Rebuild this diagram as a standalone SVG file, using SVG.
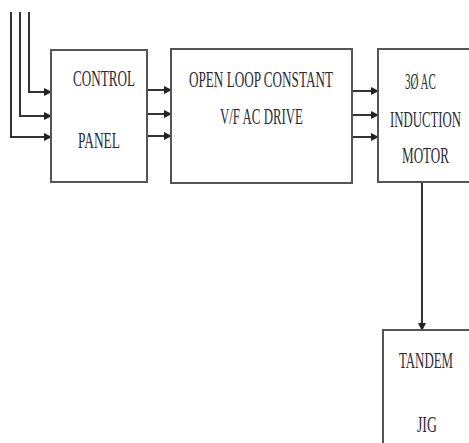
<svg xmlns="http://www.w3.org/2000/svg" width="469" height="443" viewBox="0 0 469 443">
<style>
.box{fill:#fff;stroke:#555;stroke-width:2}
.ln{fill:none;stroke:#333;stroke-width:2}
.t{font-family:"Liberation Serif","Times New Roman",serif;font-size:23px;fill:#2a2a35}
</style>
<defs>
<marker id="ah" markerWidth="8" markerHeight="8" refX="7" refY="4" orient="auto" markerUnits="userSpaceOnUse">
<path d="M0,0 L8,4 L0,8 Z" fill="#222"/>
</marker>
</defs>
<rect width="469" height="443" fill="#fff"/>
<g id="connectors">
<path class="ln" d="M29,12 V92 H51" marker-end="url(#ah)"/>
<path class="ln" d="M20,12 V116 H51" marker-end="url(#ah)"/>
<path class="ln" d="M11,12 V137 H51" marker-end="url(#ah)"/>
<path class="ln" d="M147,90 H171" marker-end="url(#ah)"/>
<path class="ln" d="M147,114 H171" marker-end="url(#ah)"/>
<path class="ln" d="M147,136 H171" marker-end="url(#ah)"/>
<path class="ln" d="M352,91 H378" marker-end="url(#ah)"/>
<path class="ln" d="M352,115 H378" marker-end="url(#ah)"/>
<path class="ln" d="M352,137 H378" marker-end="url(#ah)"/>
<path class="ln" d="M422,182 V330" stroke="#777" marker-end="url(#ah)"/>
</g>
<g id="control-panel">
<rect class="box" x="51" y="50" width="96" height="132"/>
<text class="t" transform="translate(73,86) scale(0.571,1)" textLength="108.6" lengthAdjust="spacingAndGlyphs">CONTROL</text>
<text class="t" transform="translate(78,148) scale(0.567,1)" textLength="74.1" lengthAdjust="spacingAndGlyphs">PANEL</text>
</g>
<g id="drive">
<rect class="box" x="171" y="49" width="181" height="134"/>
<text class="t" transform="translate(189,87) scale(0.566,1)" textLength="254.3" lengthAdjust="spacingAndGlyphs">OPEN LOOP CONSTANT</text>
<text class="t" transform="translate(220,124) scale(0.555,1)" textLength="149.5" lengthAdjust="spacingAndGlyphs">V/F AC DRIVE</text>
</g>
<g id="motor">
<path class="box" d="M471,49 H378 V182 H471"/>
<text class="t" transform="translate(405,89) scale(0.47,1)" textLength="65.8" lengthAdjust="spacingAndGlyphs">3Ø AC</text>
<text class="t" transform="translate(390,127) scale(0.556,1)" textLength="127.7" lengthAdjust="spacingAndGlyphs">INDUCTION</text>
<text class="t" transform="translate(402,163) scale(0.566,1)" textLength="83.1" lengthAdjust="spacingAndGlyphs">MOTOR</text>
</g>
<g id="tandem-jig">
<path class="box" d="M471,330 H383 V445"/>
<text class="t" transform="translate(399,368) scale(0.549,1)" textLength="98.4" lengthAdjust="spacingAndGlyphs">TANDEM</text>
<text class="t" transform="translate(417,432) scale(0.6,1)" textLength="33.2" lengthAdjust="spacingAndGlyphs">JIG</text>
</g>
</svg>
